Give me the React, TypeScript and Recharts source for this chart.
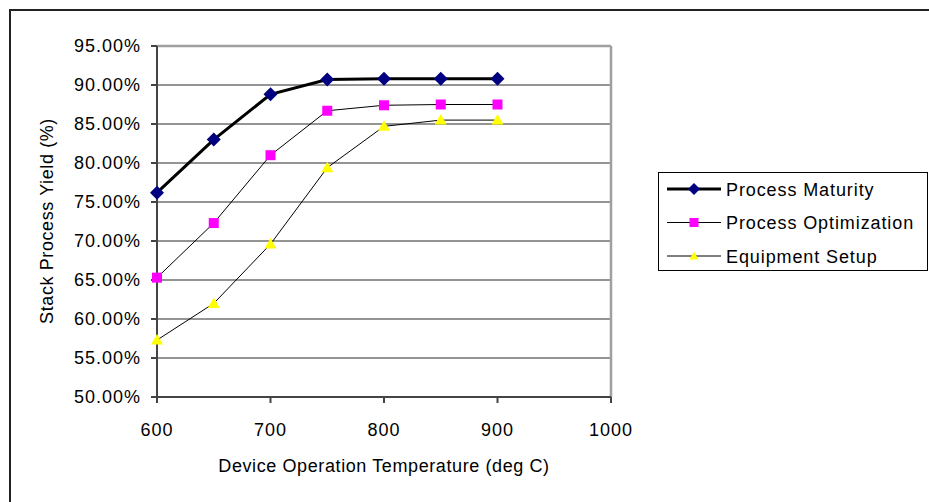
import { LineChart, Line, XAxis, YAxis, CartesianGrid, ReferenceLine } from 'recharts'

const temps = [600, 650, 700, 750, 800, 850, 900]
const maturity = [76.2, 83.0, 88.8, 90.7, 90.8, 90.8, 90.8]
const optimization = [65.3, 72.3, 81.0, 86.7, 87.4, 87.5, 87.5]
const equipment = [57.3, 62.0, 69.6, 79.4, 84.7, 85.5, 85.5]

const xTicks = [600, 700, 800, 900, 1000]
const yTicks = [50, 55, 60, 65, 70, 75, 80, 85, 90, 95]

const FONT = '"Liberation Sans", Arial, sans-serif'

const data = temps.map((t, i) => ({
  temp: t,
  maturity: maturity[i],
  optimization: optimization[i],
  equipment: equipment[i],
}))

const Diamond = ({ cx, cy, r = 7 }: any) => (
  <path d={`M${cx},${cy - r}L${cx + r},${cy}L${cx},${cy + r}L${cx - r},${cy}Z`} fill="#000080" />
)
const Square = ({ cx, cy, r = 5 }: any) => (
  <rect x={cx - r} y={cy - r} width={r * 2} height={r * 2} fill="#FF00FF" />
)
const Triangle = ({ cx, cy, r = 6 }: any) => (
  <path d={`M${cx},${cy - r}L${cx + r},${cy + r * 0.75}L${cx - r},${cy + r * 0.75}Z`} fill="#FFFF00" />
)

const series = [
  { key: 'maturity', name: 'Process Maturity', width: 3, Marker: Diamond },
  { key: 'optimization', name: 'Process Optimization', width: 1, Marker: Square },
  { key: 'equipment', name: 'Equipment Setup', width: 1, Marker: Triangle },
]

// legend drawn as a plain overlay so it doesn't eat into the plot area
const ChartLegend = () => (
  <div style={{ position: 'absolute', left: 658, top: 172, width: 270, height: 99, border: '1px solid #000', background: '#fff', boxSizing: 'border-box' }}>
    <svg width={268} height={97}>
      {series.map((s, i) => {
        const y = 16 + i * 33.5
        return (
          <g key={s.key}>
            <line x1={8} x2={62} y1={y} y2={y} stroke="#000" strokeWidth={s.width} />
            <s.Marker cx={35} cy={y} r={s.key === 'maturity' ? 6 : 4.5} />
            <text x={67} y={y + 6.5} fontFamily={FONT} fontSize={18} letterSpacing={0.9} fill="#000">
              {s.name}
            </text>
          </g>
        )
      })}
    </svg>
  </div>
)

export default function App() {
  return (
    <div style={{ position: 'absolute', left: 0, top: 0, width: 929, height: 502, overflow: 'hidden', background: '#fff' }}>
      <div style={{ position: 'absolute', left: 9, top: 9, width: 1000, height: 1000, border: '2px solid #222' }} />
      <div style={{ position: 'absolute', left: 0, top: 0 }}>
        <LineChart width={929} height={502} data={data} margin={{ top: 46, right: 318, bottom: 0, left: 0 }}>
          <CartesianGrid vertical={false} stroke="#707070" strokeWidth={1.5} />
          <XAxis
            dataKey="temp"
            type="number"
            domain={[600, 1000]}
            ticks={xTicks}
            height={105}
            stroke="#444"
            strokeWidth={2}
            tickSize={6}
            tickMargin={20}
            tick={{ fontFamily: FONT, fontSize: 18, letterSpacing: 1, fill: '#000' }}
            label={{
              content: () => (
                <text x={384} y={472} textAnchor="middle" fontFamily={FONT} fontSize={18} letterSpacing={0.6} fill="#000">
                  Device Operation Temperature (deg C)
                </text>
              ),
            }}
          />
          <YAxis
            type="number"
            domain={[50, 95]}
            ticks={yTicks}
            width={157}
            stroke="#444"
            strokeWidth={2}
            tickSize={6}
            tickMargin={10}
            tickFormatter={(v: number) => v.toFixed(2) + '%'}
            tick={{ fontFamily: FONT, fontSize: 18, letterSpacing: 1, fill: '#000' }}
            label={{
              content: () => (
                <text x={53} y={221} transform="rotate(-90 53 221)" textAnchor="middle" fontFamily={FONT} fontSize={18} letterSpacing={0.6} fill="#000">
                  Stack Process Yield (%)
                </text>
              ),
            }}
          />
          <ReferenceLine y={95} stroke="#a0a0a0" strokeWidth={2.5} />
          <ReferenceLine x={1000} stroke="#a0a0a0" strokeWidth={2.5} />
          {series.map((s) => (
            <Line
              key={s.key}
              dataKey={s.key}
              name={s.name}
              stroke="#000"
              strokeWidth={s.width}
              dot={(p: any) => <s.Marker key={`${s.key}-${p.index}`} cx={p.cx} cy={p.cy} />}
              activeDot={false}
              isAnimationActive={false}
            />
          ))}
        </LineChart>
      </div>
      <ChartLegend />
    </div>
  )
}
